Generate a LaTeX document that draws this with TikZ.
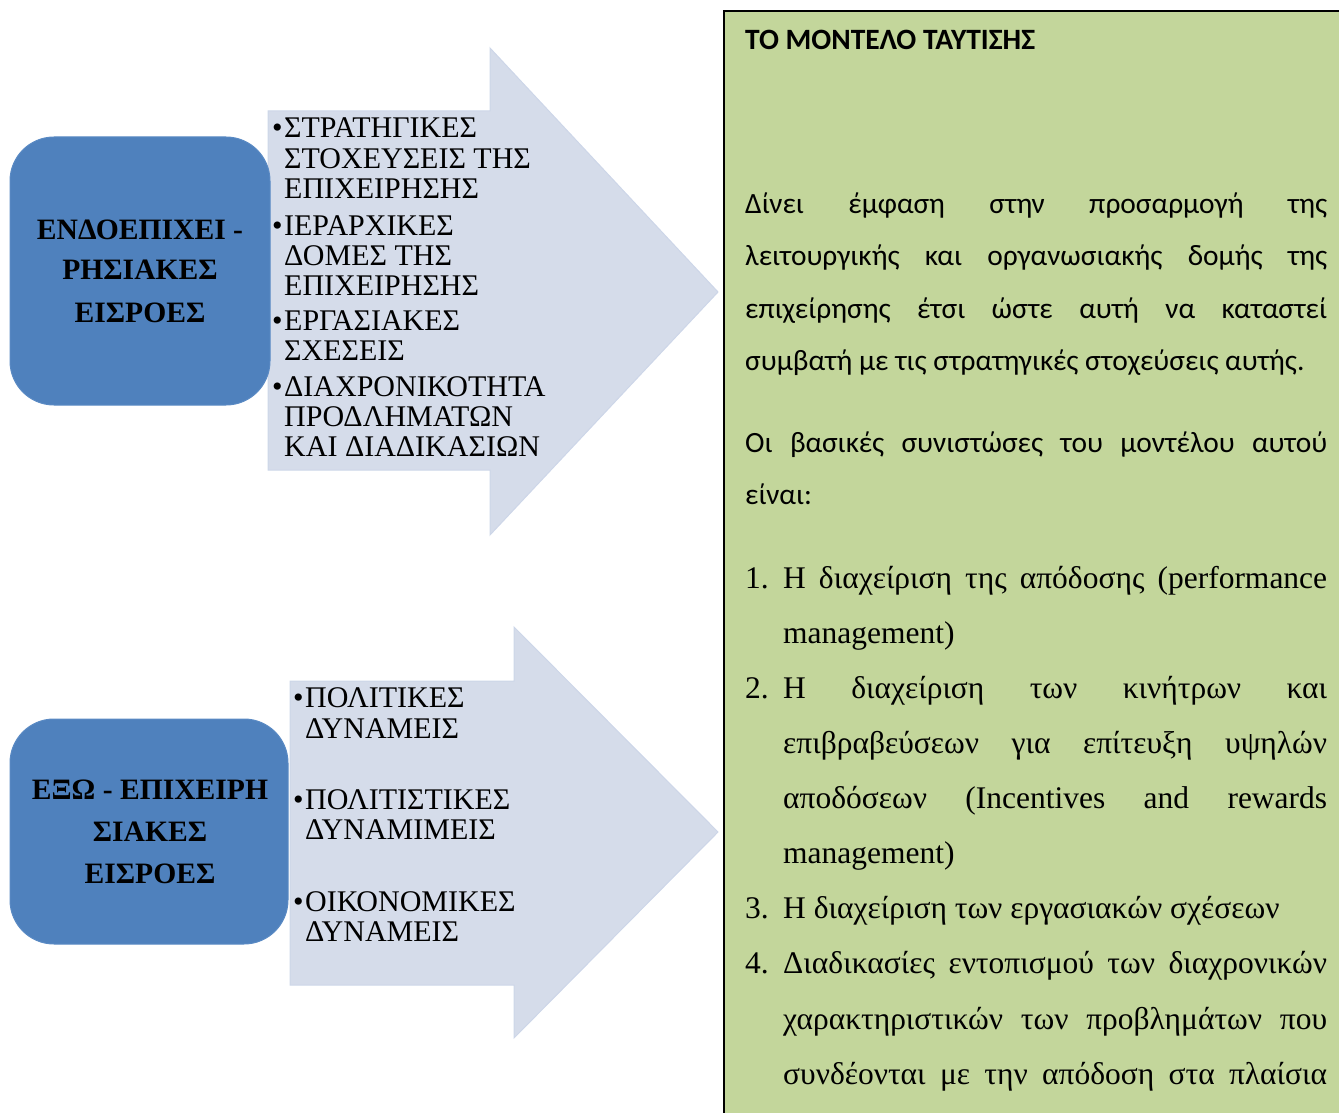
\documentclass[tikz,border=0pt]{standalone}
\usepackage{fontspec}
\setmainfont{Liberation Serif}
\newfontfamily\calibri{Carlito}
\definecolor{arrowfill}{HTML}{D5DCEA}
\definecolor{arrowedge}{HTML}{CDD6E8}
\definecolor{boxblue}{HTML}{4F81BD}
\definecolor{boxedge}{HTML}{5A8AC4}
\definecolor{panelgreen}{HTML}{C3D69B}
\newcommand\fArrow{\fontsize{30}{32}\selectfont}
\newcommand\fBox{\fontsize{29.6}{31}\selectfont\bfseries}
\newcommand\fTitle{\calibri\fontsize{29.5}{31}\selectfont\bfseries}
\newcommand\fPara{\calibri\fontsize{29.4}{31}\selectfont}
\newcommand\fList{\fontsize{31.5}{33}\selectfont}
\newcommand\bul{\makebox[12pt][l]{•}}
\begin{document}
\begin{tikzpicture}[x=1pt,y=-1pt,
  bigarrow/.style={fill=arrowfill,draw=arrowedge,line width=1pt},
  inbox/.style={fill=boxblue,draw=boxedge,line width=1pt,rounded corners=44pt},
  bl/.style={anchor=base west,inner sep=0pt,font=\fArrow},
  bt/.style={anchor=base,inner sep=0pt,font=\fBox},
  pl/.style={anchor=base west,inner sep=0pt,font=\fPara},
  ll/.style={anchor=base west,inner sep=0pt,font=\fList}]
\useasboundingbox (0,0) rectangle (1339,1113);
\clip (0,0) rectangle (1339,1113);

% upper block arrow and its list
\draw[bigarrow] (268,111) -- (490,111) -- (490,48) -- (718,292) -- (490,535)
  -- (490,470) -- (268,470) -- cycle;
\draw[inbox] (10,137) rectangle (270,405);
\node[bt] (e1) at (140,239) {ΕΝΔΟΕΠΙΧΕΙ -};
\node[bt] (e2) at (140,279) {ΡΗΣΙΑΚΕΣ};
\node[bt] (e3) at (140,322) {ΕΙΣΡΟΕΣ};

\node[bl] (a1) at (272,138) {\bul ΣΤΡΑΤΗΓΙΚΕΣ};
\node[bl] (a2) at (284,168) {ΣΤΟΧΕΥΣΕΙΣ ΤΗΣ};
\node[bl] (a3) at (284,198) {ΕΠΙΧΕΙΡΗΣΗΣ};
\node[bl] (a4) at (272,235) {\bul ΙΕΡΑΡΧΙΚΕΣ};
\node[bl] (a5) at (284,265) {ΔΟΜΕΣ ΤΗΣ};
\node[bl] (a6) at (284,295) {ΕΠΙΧΕΙΡΗΣΗΣ};
\node[bl] (a7) at (272,330) {\bul ΕΡΓΑΣΙΑΚΕΣ};
\node[bl] (a8) at (284,360) {ΣΧΕΣΕΙΣ};
\node[bl] (a9) at (272,396) {\bul ΔΙΑΧΡΟΝΙΚΟΤΗΤΑ};
\node[bl] (a10) at (284,426) {ΠΡΟΔΛΗΜΑΤΩΝ};
\node[bl] (a11) at (284,456) {ΚΑΙ ΔΙΑΔΙΚΑΣΙΩΝ};

% lower block arrow and its list
\draw[bigarrow] (290,681) -- (514,681) -- (514,627) -- (718,832) -- (514,1038)
  -- (514,985) -- (290,985) -- cycle;
\draw[inbox] (10,719) rectangle (288,944);
\node[bt] (x1) at (150,799) {ΕΞΩ - ΕΠΙΧΕΙΡΗ};
\node[bt] (x2) at (150,841) {ΣΙΑΚΕΣ};
\node[bt] (x3) at (150,883) {ΕΙΣΡΟΕΣ};

\node[bl] (b1) at (293,707) {\bul ΠΟΛΙΤΙΚΕΣ};
\node[bl] (b2) at (305,738) {ΔΥΝΑΜΕΙΣ};
\node[bl] (b3) at (293,809) {\bul ΠΟΛΙΤΙΣΤΙΚΕΣ};
\node[bl] (b4) at (305,839) {ΔΥΝΑΜΙΜΕΙΣ};
\node[bl] (b5) at (293,911) {\bul ΟΙΚΟΝΟΜΙΚΕΣ};
\node[bl] (b6) at (305,941) {ΔΥΝΑΜΕΙΣ};

% text panel on the right
\draw[fill=panelgreen,line width=2pt] (724,11) rectangle (1370,1140);
\node[anchor=base west,inner sep=0pt,font=\fTitle] (t0) at (745,50) {ΤΟ ΜΟΝΤΕΛΟ ΤΑΥΤΙΣΗΣ};

\node[pl] (p1) at (745,213) {\makebox[582pt][s]{Δίνει έμφαση στην προσαρμογή της}};
\node[pl] (p2) at (745,265.5) {\makebox[582pt][s]{λειτουργικής και οργανωσιακής δομής της}};
\node[pl] (p3) at (745,318) {\makebox[582pt][s]{επιχείρησης έτσι ώστε αυτή να καταστεί}};
\node[pl] (p4) at (745,370.5) {συμβατή με τις στρατηγικές στοχεύσεις αυτής.};
\node[pl] (p5) at (745,452) {\makebox[582pt][s]{Οι βασικές συνιστώσες του μοντέλου αυτού}};
\node[pl] (p6) at (745,504.5) {είναι:};

\node[ll] (n1) at (745,588) {1.};
\node[ll] (l1) at (783,588) {\makebox[544pt][s]{Η διαχείριση της απόδοσης (performance}};
\node[ll] (l2) at (783,643) {management)};
\node[ll] (n2) at (745,698) {2.};
\node[ll] (l3) at (783,698) {\makebox[544pt][s]{Η διαχείριση των κινήτρων και}};
\node[ll] (l4) at (783,753) {\makebox[544pt][s]{επιβραβεύσεων για επίτευξη υψηλών}};
\node[ll] (l5) at (783,808) {\makebox[544pt][s]{αποδόσεων (Incentives and rewards}};
\node[ll] (l6) at (783,863) {management)};
\node[ll] (n3) at (745,918) {3.};
\node[ll] (l7) at (783,918) {Η διαχείριση των εργασιακών σχέσεων};
\node[ll] (n4) at (745,973) {4.};
\node[ll] (l8) at (783,973) {\makebox[544pt][s]{Διαδικασίες εντοπισμού των διαχρονικών}};
\node[ll] (l9) at (783,1029) {\makebox[544pt][s]{χαρακτηριστικών των προβλημάτων που}};
\node[ll] (l10) at (783,1084) {\makebox[544pt][s]{συνδέονται με την απόδοση στα πλαίσια}};
\end{tikzpicture}
\end{document}
